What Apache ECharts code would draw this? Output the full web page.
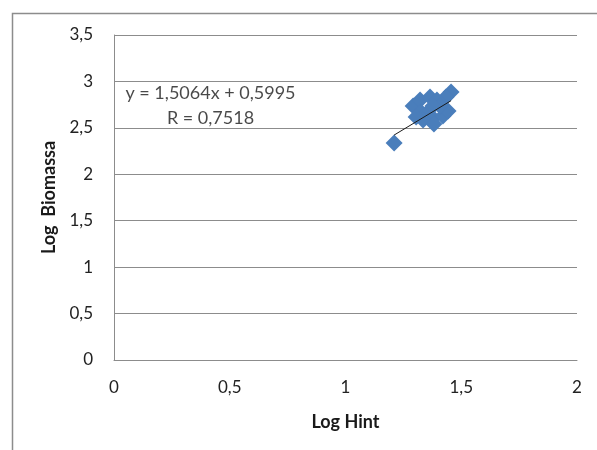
<!DOCTYPE html>
<html>
<head>
<meta charset="utf-8">
<script src="https://cdn.jsdelivr.net/npm/echarts@6/dist/echarts.min.js"></script>
<style>
html,body{margin:0;padding:0;background:#fff;}
#chart{width:597px;height:450px;}
</style>
</head>
<body>
<div id="chart"></div>
<script>
// Data
const logHint = [1.21, 1.456, 1.434, 1.292, 1.322, 1.365, 1.395, 1.326, 1.352, 1.378, 1.421, 1.443, 1.408, 1.378, 1.335, 1.382, 1.305];
const logBiomassa = [2.337, 2.886, 2.832, 2.735, 2.800, 2.832, 2.800, 2.671, 2.660, 2.606, 2.628, 2.681, 2.735, 2.735, 2.585, 2.541, 2.617];
const trendSlope = 1.5064;
const trendIntercept = 0.5995;
const trendR = 0.7518;
const xTickLabels = ['0', '0,5', '1', '1,5', '2'];
const yTickLabels = ['0', '0,5', '1', '1,5', '2', '2,5', '3', '3,5'];
const labelAnchor = [[0.045, 2.74]];

const points = logHint.map((x, i) => [x, logBiomassa[i]]);
const xMin = Math.min(...logHint), xMax = Math.max(...logHint);
const trend = [[xMin, trendSlope * xMin + trendIntercept], [xMax, trendSlope * xMax + trendIntercept]];
const fmt = v => String(v).replace('.', ',');

const FONT = 'Lato';
const chart = echarts.init(document.getElementById('chart'));
chart.setOption({
  animation: false,
  textStyle: { fontFamily: FONT },
  graphic: [{
    type: 'rect', left: 10, top: 11, shape: { width: 640, height: 500 },
    style: { fill: 'none', stroke: '#8c8c8c', lineWidth: 1.5 }, silent: true, z: -1
  }],
  grid: { left: 114, right: 20, top: 35, bottom: 90 },
  xAxis: {
    type: 'value', min: 0, max: 2, interval: 0.5,
    name: 'Log Hint', nameLocation: 'middle', nameGap: 53,
    nameTextStyle: { fontFamily: FONT, fontWeight: 'bold', fontSize: 18, color: '#1a1a1a' },
    axisLine: { show: true, lineStyle: { color: '#8c8c8c', width: 1 } },
    axisTick: { show: false },
    splitLine: { show: false },
    axisLabel: { fontSize: 17, color: '#222', margin: 19, formatter: v => xTickLabels[Math.round(v / 0.5)] }
  },
  yAxis: {
    type: 'value', min: 0, max: 3.5, interval: 0.5,
    name: 'Log  Biomassa', nameLocation: 'middle', nameGap: 51, nameRotate: 90,
    nameTextStyle: { fontFamily: FONT, fontWeight: 'bold', fontSize: 18, color: '#1a1a1a' },
    axisLine: { show: true, lineStyle: { color: '#8c8c8c', width: 1 } },
    axisTick: { show: false },
    splitLine: { show: true, lineStyle: { color: '#8c8c8c', width: 1 } },
    axisLabel: { fontSize: 17, color: '#222', margin: 21, formatter: v => yTickLabels[Math.round(v / 0.5)] }
  },
  series: [
    {
      type: 'scatter', data: points, symbol: 'diamond', symbolSize: 17,
      itemStyle: { color: '#4a7ebb', opacity: 1 }, z: 2
    },
    {
      type: 'line', data: trend, symbol: 'none', z: 3,
      lineStyle: { color: '#1a1a1a', width: 1 }
    },
    {
      type: 'scatter', data: labelAnchor, symbol: 'circle', symbolSize: 2,
      itemStyle: { color: 'rgba(0,0,0,0)' }, z: 4, silent: true,
      label: {
        show: true, position: 'right', distance: 0, align: 'left',
        formatter: 'y = ' + fmt(trendSlope) + 'x + ' + fmt(trendIntercept) + '\n         R = ' + fmt(trendR),
        fontFamily: FONT, fontSize: 18, color: '#1a1a1a', lineHeight: 25
      }
    }
  ]
});
</script>
</body>
</html>
